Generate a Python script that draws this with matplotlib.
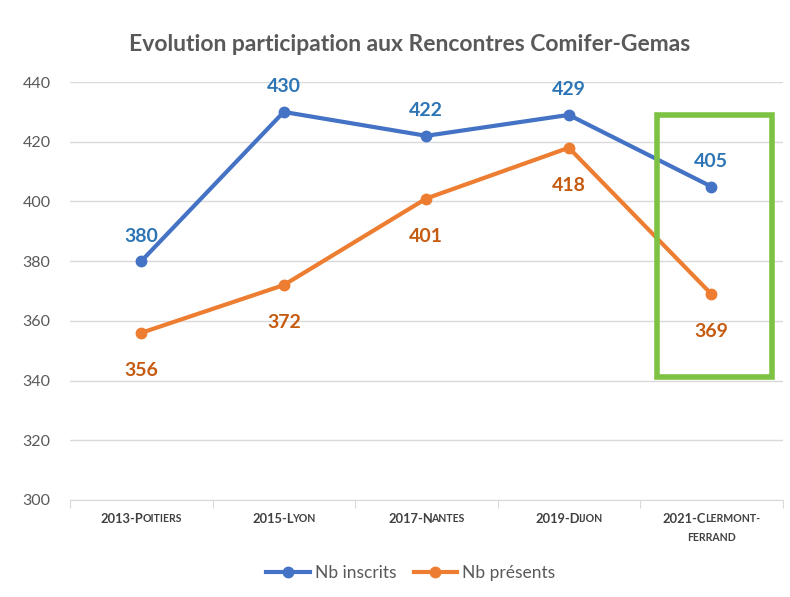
import matplotlib.pyplot as plt
from matplotlib.patches import Rectangle
from matplotlib.transforms import offset_copy

plt.rcParams["font.family"] = ["Lato", "DejaVu Sans"]

years = ["2013", "2015", "2017", "2019", "2021"]
cities = [("P", "OITIERS"), ("L", "YON"), ("N", "ANTES"), ("D", "IJON"), ("C", "LERMONT-\nFERRAND")]
inscrits = [380, 430, 422, 429, 405]
presents = [356, 372, 401, 418, 369]
y_ticks = [300, 320, 340, 360, 380, 400, 420, 440]

blue = "#4472C4"
orange = "#ED7D31"
blue_txt = "#2E75B6"
orange_txt = "#C55A11"

fig = plt.figure(figsize=(7.9, 5.97), dpi=100)
ax = fig.add_axes([0.0886, 0.1625, 0.902, 0.700])

x = [i + 0.5 for i in range(len(years))]
ax.plot(x, inscrits, color=blue, lw=3, marker="o", ms=7.5, label="Nb inscrits", zorder=3)
ax.plot(x, presents, color=orange, lw=3, marker="o", ms=7.5, label="Nb présents", zorder=3)

for xi, v in zip(x, inscrits):
    ax.annotate(str(v), (xi, v), xytext=(0, 12), textcoords="offset points",
                ha="center", va="bottom", color=blue_txt, fontsize=14, fontweight="bold")
for xi, v in zip(x, presents):
    ax.annotate(str(v), (xi, v), xytext=(0, -21), textcoords="offset points",
                ha="center", va="top", color=orange_txt, fontsize=14, fontweight="bold")

ax.set_xlim(0, 5)
ax.set_ylim(300, 440)
ax.set_yticks(y_ticks)
ax.tick_params(axis="y", length=0, labelsize=11.5, labelcolor="#595959", pad=14)
ax.grid(axis="y", color="#d9d9d9", lw=1)
ax.set_axisbelow(True)
for s in ["top", "right", "left"]:
    ax.spines[s].set_visible(False)
ax.spines["bottom"].set_color("#d9d9d9")

ax.set_xticks(range(6))
ax.set_xticklabels([])
ax.tick_params(axis="x", length=6, color="#d9d9d9")

# small-caps style category labels: big first part + smaller caps rest
fig.canvas.draw()
renderer = fig.canvas.get_renderer()
xt = ax.get_xaxis_transform()
px2pt = 72 / fig.dpi
for xi, yr, (first, rest) in zip(x, years, cities):
    lines = rest.split("\n")
    a = ax.text(xi, -0.045, yr + "-" + first, transform=xt, ha="left", va="center",
                fontsize=9.3, fontweight="bold", color="#404040")
    wa = a.get_window_extent(renderer).width - 1.5
    b = ax.text(xi, -0.045, lines[0], transform=xt, ha="left", va="center",
                fontsize=7.6, fontweight="bold", color="#404040")
    wb = b.get_window_extent(renderer).width
    total = wa + wb
    a.set_transform(offset_copy(xt, fig=fig, x=-total / 2 * px2pt, units="points"))
    b.set_transform(offset_copy(xt, fig=fig, x=(wa - total / 2) * px2pt, units="points"))
    if len(lines) > 1:
        ax.text(xi, -0.09, lines[1], transform=xt, ha="center", va="center",
                fontsize=7.6, fontweight="bold", color="#404040")

ax.add_patch(Rectangle((4.116, 341.2), 0.807, 87.7, fill=False,
                       edgecolor="#7DC242", lw=4, zorder=4, clip_on=False))

fig.text(0.518, 0.925, "Evolution participation aux Rencontres Comifer-Gemas",
         ha="center", va="center", fontsize=16.5, fontweight="bold", color="#595959")

fig.legend(loc="lower center", bbox_to_anchor=(0.52, 0.0), ncol=2, frameon=False,
           fontsize=12.5, handlelength=2.5, columnspacing=1.0, handletextpad=0.3,
           labelcolor="#595959")

fig.savefig("out.png", dpi=100)
